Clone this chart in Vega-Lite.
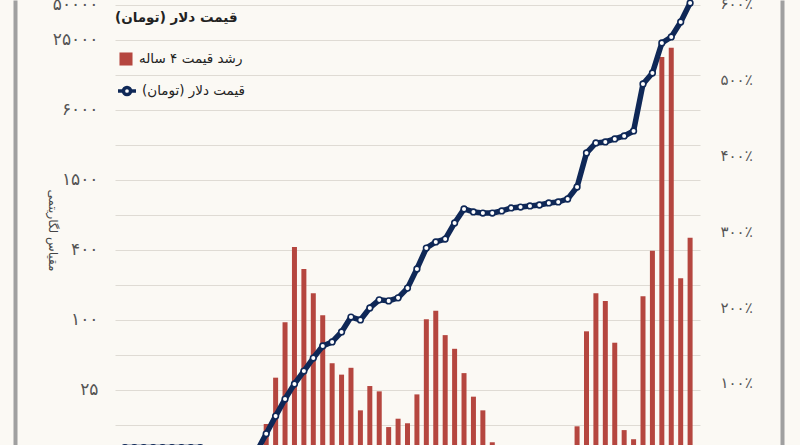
{
  "$schema": "https://vega.github.io/schema/vega-lite/v6.json",
  "width": 585,
  "height": 445,
  "autosize": {"type": "none"},
  "padding": {"left": 115, "top": 0, "right": 100, "bottom": 0},
  "background": "#fbf9f4",
  "title": {"text": "قیمت دلار (تومان)‏", "anchor": "start", "frame": "group", "offset": -29, "fontSize": 13.5, "fontWeight": "bold", "color": "#222222", "font": "DejaVu Sans"},
  "config": {"view": {"stroke": null}, "font": "DejaVu Sans"},
  "data": {"values": [
    {"year": 1342, "price": 8.0, "growth": null},
    {"year": 1343, "price": 8.0, "growth": null},
    {"year": 1344, "price": 8.0, "growth": null},
    {"year": 1345, "price": 8.0, "growth": null},
    {"year": 1346, "price": 8.0, "growth": null},
    {"year": 1347, "price": 8.0, "growth": null},
    {"year": 1348, "price": 8.0, "growth": null},
    {"year": 1349, "price": 8.0, "growth": null},
    {"year": 1350, "price": 8.0, "growth": null},
    {"year": 1351, "price": 7.5, "growth": null},
    {"year": 1352, "price": 7.2, "growth": null},
    {"year": 1353, "price": 7.2, "growth": null},
    {"year": 1354, "price": 7.2, "growth": null},
    {"year": 1355, "price": 7.4, "growth": null},
    {"year": 1356, "price": 7.4, "growth": null},
    {"year": 1357, "price": 10.5, "growth": 46},
    {"year": 1358, "price": 14.9, "growth": 107},
    {"year": 1359, "price": 20.9, "growth": 180},
    {"year": 1360, "price": 28.2, "growth": 279},
    {"year": 1361, "price": 36.4, "growth": 250},
    {"year": 1362, "price": 47.1, "growth": 218},
    {"year": 1363, "price": 59.8, "growth": 189},
    {"year": 1364, "price": 64.7, "growth": 126},
    {"year": 1365, "price": 78.9, "growth": 111},
    {"year": 1366, "price": 106, "growth": 120},
    {"year": 1367, "price": 100, "growth": 64},
    {"year": 1368, "price": 127, "growth": 96},
    {"year": 1369, "price": 149, "growth": 89},
    {"year": 1370, "price": 146, "growth": 42},
    {"year": 1371, "price": 155, "growth": 53},
    {"year": 1372, "price": 188, "growth": 47},
    {"year": 1373, "price": 275, "growth": 85},
    {"year": 1374, "price": 416, "growth": 184},
    {"year": 1375, "price": 469, "growth": 195},
    {"year": 1376, "price": 497, "growth": 163},
    {"year": 1377, "price": 683, "growth": 145},
    {"year": 1378, "price": 901, "growth": 113},
    {"year": 1379, "price": 849, "growth": 82},
    {"year": 1380, "price": 832, "growth": 64},
    {"year": 1381, "price": 832, "growth": 22},
    {"year": 1382, "price": 866, "growth": -4},
    {"year": 1383, "price": 919, "growth": 8},
    {"year": 1384, "price": 937, "growth": 13},
    {"year": 1385, "price": 956, "growth": 15},
    {"year": 1386, "price": 975, "growth": 13},
    {"year": 1387, "price": 1015, "growth": 10},
    {"year": 1388, "price": 1035, "growth": 10},
    {"year": 1389, "price": 1098, "growth": 15},
    {"year": 1390, "price": 1393, "growth": 43},
    {"year": 1391, "price": 2731, "growth": 168},
    {"year": 1392, "price": 3330, "growth": 218},
    {"year": 1393, "price": 3396, "growth": 208},
    {"year": 1394, "price": 3605, "growth": 153},
    {"year": 1395, "price": 3825, "growth": 38},
    {"year": 1396, "price": 4222, "growth": 26},
    {"year": 1397, "price": 10710, "growth": 214},
    {"year": 1398, "price": 13315, "growth": 274},
    {"year": 1399, "price": 24120, "growth": 529},
    {"year": 1400, "price": 27170, "growth": 541},
    {"year": 1401, "price": 36566, "growth": 238},
    {"year": 1402, "price": 53265, "growth": 291}
  ]},
  "layer": [
    {
      "mark": {"type": "bar", "size": 5, "clip": true},
      "encoding": {
        "x": {"field": "year", "type": "quantitative",
              "scale": {"domain": [1341.48, 1402.52], "nice": false, "zero": false},
              "axis": null},
        "y": {"field": "growth", "type": "quantitative",
              "scale": {"domain": [18.4, 604], "nice": false, "zero": false},
              "axis": {"orient": "right", "values": [100, 200, 300, 400, 500, 600],
                       "labelExpr": "datum.value == 100 ? '۱۰۰٪' : datum.value == 200 ? '۲۰۰٪' : datum.value == 300 ? '۳۰۰٪' : datum.value == 400 ? '۴۰۰٪' : datum.value == 500 ? '۵۰۰٪' : '۶۰۰٪'",
                       "grid": false, "ticks": false, "domain": false, "labelPadding": 20, "labelFontSize": 15, "labelColor": "#555555", "labelFlush": false, "labelOverlap": false, "title": null}},
        "y2": {"datum": 0},
        "fill": {"datum": "رشد قیمت ۴ ساله‏", "type": "nominal", "scale": {"range": ["#b5463f"]},
                 "legend": {"orient": "none", "legendX": 4, "legendY": 52, "title": null, "symbolType": "square", "symbolSize": 170, "symbolStrokeWidth": 0, "labelFontSize": 13.5, "labelColor": "#222222", "labelOffset": 6}}
      }
    },
    {
      "layer": [
        {
          "mark": {"type": "line", "clip": true, "strokeWidth": 5.5, "strokeJoin": "round"},
          "encoding": {
            "x": {"field": "year", "type": "quantitative"},
            "y": {"field": "price", "type": "quantitative",
                  "scale": {"type": "log", "base": 2, "domain": [8.41, 56520], "nice": false},
                  "axis": {"orient": "left", "values": [12.5, 25, 50, 100, 200, 400, 800, 1600, 3200, 6400, 12800, 25600, 51200],
                           "labelExpr": "datum.value == 25 ? '۲۵' : datum.value == 100 ? '۱۰۰' : datum.value == 400 ? '۴۰۰' : datum.value == 1600 ? '۱۵۰۰' : datum.value == 6400 ? '۶۰۰۰' : datum.value == 25600 ? '۲۵۰۰۰' : datum.value == 51200 ? '۵۰۰۰۰' : ''",
                           "grid": true, "gridColor": "#dfdbd4", "gridWidth": 1, "ticks": false, "domain": false, "labelPadding": 17, "labelFontSize": 17, "labelColor": "#555555", "labelFlush": false, "labelOverlap": false,
                           "title": "مقیاس لگاریتمی", "titleAngle": 90, "titleX": -63, "titleY": 230, "titleAlign": "center", "titleBaseline": "middle", "titleFontSize": 12, "titleFontWeight": "normal", "titleColor": "#444444"}},
            "stroke": {"datum": "قیمت دلار (تومان)‏", "type": "nominal", "scale": {"range": ["#0f2857"]},
                       "legend": {"orient": "none", "legendX": 1, "legendY": 80, "title": null,
                                  "symbolType": "M-1,0L-0.4,0M0.4,0L1,0M0.4,0A0.4,0.4,0,1,1,-0.4,0A0.4,0.4,0,1,1,0.4,0",
                                  "symbolSize": 324, "symbolStrokeWidth": 3.5, "symbolFillColor": "#ffffff",
                                  "labelFontSize": 13.5, "labelColor": "#222222", "labelOffset": 4,
                                  "encode": {"symbols": {"update": {"fill": {"value": "#ffffff"}, "strokeWidth": {"value": 3.5}}}}}}
          }
        },
        {
          "mark": {"type": "point", "clip": true, "filled": true, "fill": "#ffffff", "stroke": "#0f2857", "strokeWidth": 1.6, "size": 32, "opacity": 1},
          "encoding": {
            "x": {"field": "year", "type": "quantitative"},
            "y": {"field": "price", "type": "quantitative"}
          }
        }
      ]
    },
    {
      "mark": {"type": "point", "opacity": 0},
      "encoding": {
        "x": {"field": "year", "type": "quantitative"},
        "y": {"field": "price", "type": "quantitative", "scale": {"type": "log"},
              "axis": {"orient": "left", "offset": 100, "domain": true, "domainColor": "#a0a0a0", "domainWidth": 4, "labels": false, "ticks": false, "grid": false, "title": null}}
      }
    },
    {
      "mark": {"type": "point", "opacity": 0},
      "encoding": {
        "x": {"field": "year", "type": "quantitative"},
        "y": {"field": "price", "type": "quantitative", "scale": {"type": "log"},
              "axis": {"orient": "right", "offset": 82, "domain": true, "domainColor": "#a0a0a0", "domainWidth": 4, "labels": false, "ticks": false, "grid": false, "title": null}}
      }
    }
  ],
  "resolve": {"scale": {"y": "independent"}}
}
